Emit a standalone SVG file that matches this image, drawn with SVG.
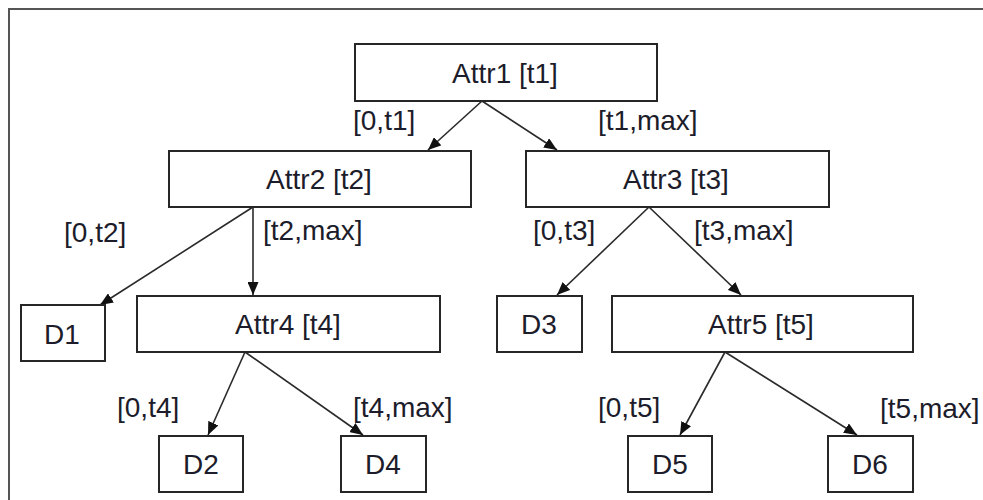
<svg xmlns="http://www.w3.org/2000/svg" width="983" height="500" viewBox="0 0 983 500">
<style>
.box{fill:#fff;stroke:#262626;stroke-width:2}
.t{font-family:"Liberation Sans",Arial,sans-serif;font-size:28px;fill:#1c1c2a}
.c{text-anchor:middle}
.e{stroke:#2a2a2a;stroke-width:1.6;fill:none;marker-end:url(#ah)}
</style>
<defs>
<marker id="ah" viewBox="0 0 13 11" refX="13" refY="5.5" markerWidth="13" markerHeight="11" markerUnits="userSpaceOnUse" orient="auto">
<path d="M0,0 L13,5.5 L0,11 Z" fill="#111"/>
</marker>
</defs>
<rect width="983" height="500" fill="#fff"/>
<polyline points="9,500 9,9 983,9" fill="none" stroke="#555" stroke-width="2"/>
<g id="connectors">
<line class="e" x1="482" y1="101" x2="428" y2="150"/>
<line class="e" x1="482" y1="101" x2="557" y2="150"/>
<line class="e" x1="253" y1="207" x2="100" y2="305"/>
<line class="e" x1="253" y1="207" x2="253" y2="295"/>
<line class="e" x1="649" y1="207" x2="557" y2="295"/>
<line class="e" x1="649" y1="207" x2="741" y2="295"/>
<line class="e" x1="245" y1="352" x2="208" y2="435"/>
<line class="e" x1="245" y1="352" x2="363" y2="435"/>
<line class="e" x1="725" y1="352" x2="680" y2="435"/>
<line class="e" x1="725" y1="352" x2="857" y2="435"/>
<text class="t" x="353" y="130">[0,t1]</text>
<text class="t" x="598" y="130">[t1,max]</text>
<text class="t" x="64" y="242">[0,t2]</text>
<text class="t" x="263" y="240">[t2,max]</text>
<text class="t" x="533" y="240">[0,t3]</text>
<text class="t" x="694" y="240">[t3,max]</text>
<text class="t" x="117" y="417">[0,t4]</text>
<text class="t" x="353" y="417">[t4,max]</text>
<text class="t" x="598" y="417">[0,t5]</text>
<text class="t" x="880" y="418">[t5,max]</text>
</g>
<g id="attr1"><rect class="box" x="355" y="44" width="302" height="57"/><text class="t c" x="505" y="83">Attr1 [t1]</text></g>
<g id="attr2"><rect class="box" x="169" y="151" width="302" height="56"/><text class="t c" x="319" y="189">Attr2 [t2]</text></g>
<g id="attr3"><rect class="box" x="526" y="151" width="303" height="56"/><text class="t c" x="676" y="189">Attr3 [t3]</text></g>
<g id="d1"><rect class="box" x="21" y="305" width="84" height="56"/><text class="t c" x="62" y="344">D1</text></g>
<g id="attr4"><rect class="box" x="137" y="296" width="303" height="56"/><text class="t c" x="288" y="334">Attr4 [t4]</text></g>
<g id="d3"><rect class="box" x="497" y="296" width="85" height="56"/><text class="t c" x="539" y="334">D3</text></g>
<g id="attr5"><rect class="box" x="612" y="296" width="301" height="56"/><text class="t c" x="761" y="334">Attr5 [t5]</text></g>
<g id="d2"><rect class="box" x="159" y="436" width="84" height="56"/><text class="t c" x="201" y="474">D2</text></g>
<g id="d4"><rect class="box" x="341" y="436" width="85" height="56"/><text class="t c" x="383" y="474">D4</text></g>
<g id="d5"><rect class="box" x="628" y="436" width="84" height="56"/><text class="t c" x="670" y="474">D5</text></g>
<g id="d6"><rect class="box" x="828" y="436" width="85" height="56"/><text class="t c" x="870" y="474">D6</text></g>
</svg>
